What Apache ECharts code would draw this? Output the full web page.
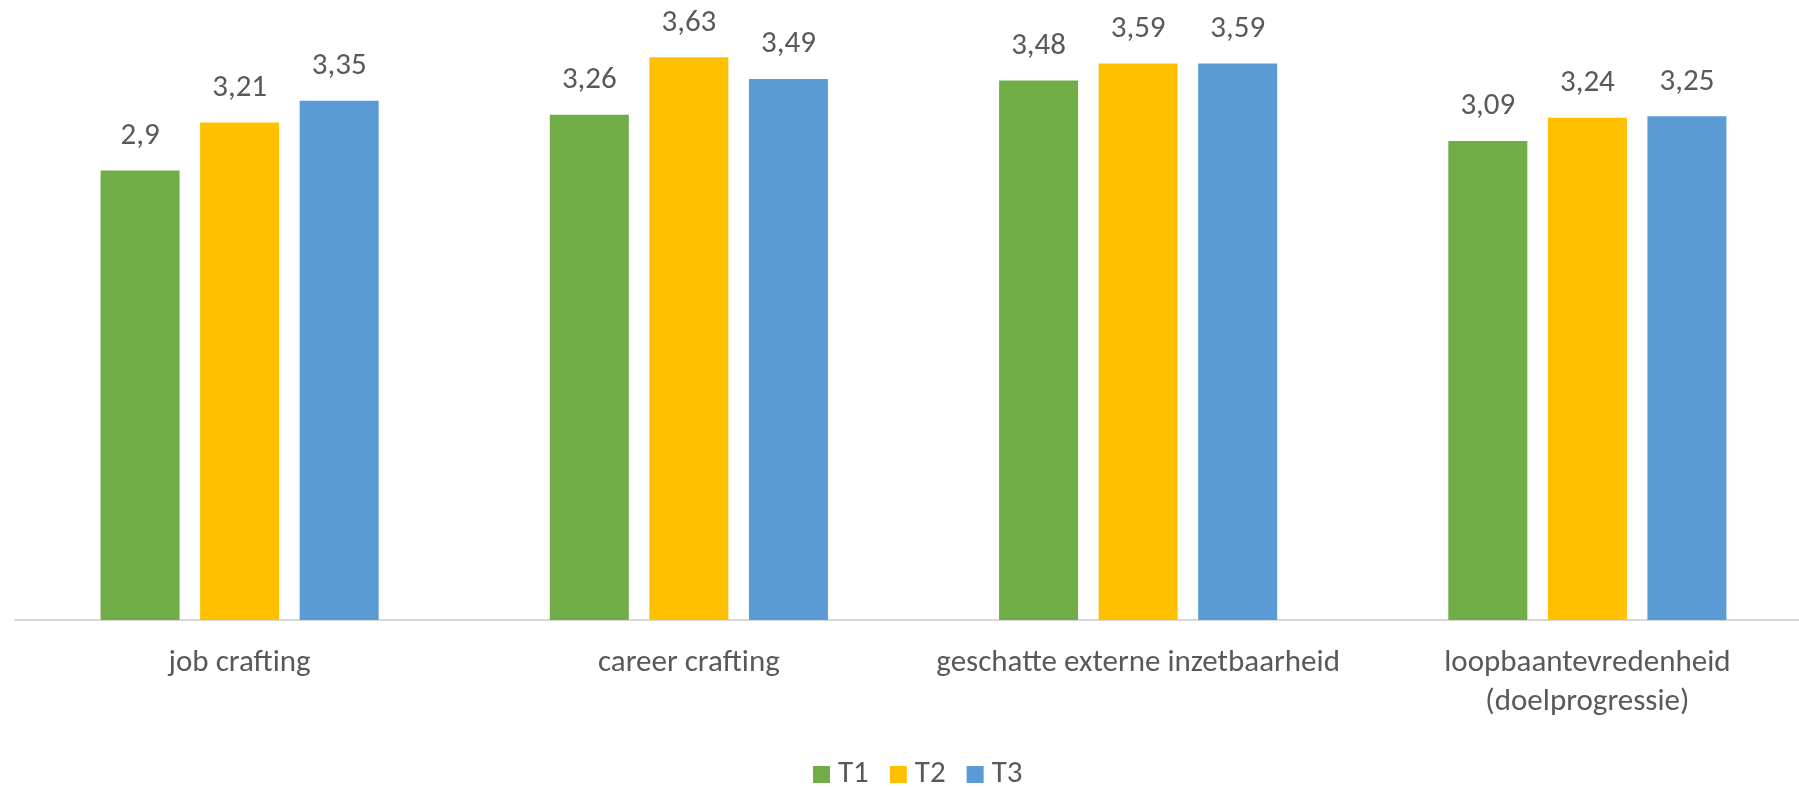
<!DOCTYPE html>
<html>
<head>
<meta charset="utf-8">
<script src="https://cdn.jsdelivr.net/npm/echarts@6/dist/echarts.min.js"></script>
<style>
html,body{margin:0;padding:0;background:#fff;overflow:hidden;width:1799px;height:787px;}
#chart{width:1815px;height:787px;}
</style>
</head>
<body>
<div id="chart"></div>
<script>
const categories = ['job crafting', 'career crafting', 'geschatte externe inzetbaarheid', 'loopbaantevredenheid\n(doelprogressie)'];
const seriesNames = ['T1', 'T2', 'T3'];
const t1Values = [2.9, 3.26, 3.48, 3.09];
const t2Values = [3.21, 3.63, 3.59, 3.24];
const t3Values = [3.35, 3.49, 3.59, 3.25];
const colors = ['#70AD47', '#FFC000', '#5B9BD5'];

const FONT = 'Carlito, Lato, sans-serif';
const chart = echarts.init(document.getElementById('chart'), null, {renderer: 'canvas'});
const fmt = p => String(p.value).replace('.', ',');
const mk = (name, data, color) => ({
  name, type: 'bar', data,
  barWidth: 79, barGap: '26%',
  itemStyle: {color},
  label: {show: true, position: 'top', distance: 19, formatter: fmt,
    color: '#595959', fontSize: 31, fontFamily: FONT},
  emphasis: {disabled: true}
});
chart.setOption({
  animation: false,
  grid: {left: 15, top: 0, width: 1797, height: 620, containLabel: false},
  legend: {
    data: seriesNames, left: 813, top: 759, padding: 0,
    itemWidth: 17, itemHeight: 17, itemGap: 21, icon: 'rect',
    textStyle: {color: '#595959', fontSize: 31, fontFamily: FONT, padding: [0, 0, 0, 3]}
  },
  xAxis: {
    type: 'category', data: categories,
    axisLine: {lineStyle: {color: '#D9D9D9', width: 2}},
    axisTick: {show: false},
    axisLabel: {color: '#595959', fontSize: 31, fontFamily: FONT, margin: 24, lineHeight: 39, interval: 0}
  },
  yAxis: {type: 'value', min: 0, max: 4, show: false, splitLine: {show: false}},
  series: [
    mk(seriesNames[0], t1Values, colors[0]),
    mk(seriesNames[1], t2Values, colors[1]),
    mk(seriesNames[2], t3Values, colors[2])
  ]
});
</script>
</body>
</html>
